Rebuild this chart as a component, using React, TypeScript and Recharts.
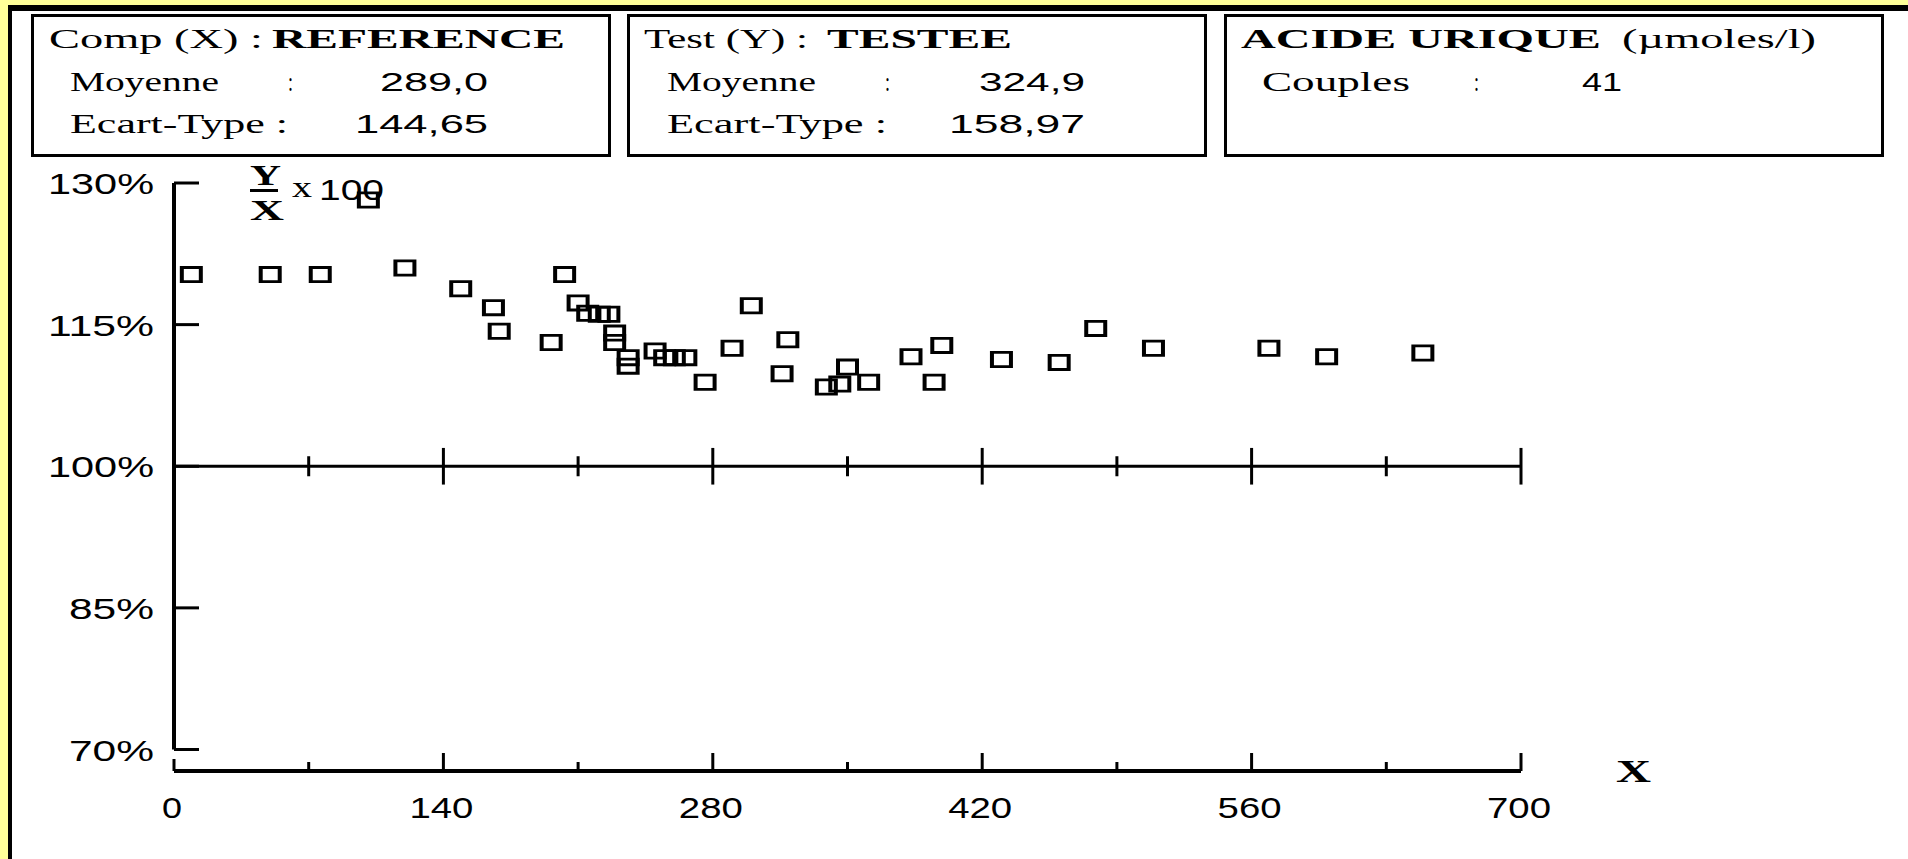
import React from 'react'
import { ScatterChart, Scatter, XAxis, YAxis, ReferenceLine } from 'recharts'

// comparison values (X, µmoles/l) and Y/X x100 ratios
const compValues = [
  9, 50, 76, 101, 120, 149, 166, 169, 196, 203,
  210, 215, 221, 226, 229, 229, 236, 236, 250, 255, 260, 266,
  276, 290, 300, 316, 319, 339, 346, 350, 361, 383, 395, 399,
  430, 460, 479, 509, 569, 599, 649,
]
const ratioValues = [
  120.3, 120.3, 120.3, 128.2, 121.0, 118.8, 116.8, 114.3, 113.1, 120.3,
  117.3, 116.2, 116.1, 116.1, 114.1, 113.1, 110.6, 111.5, 112.2, 111.5, 111.5, 111.5,
  108.9, 112.5, 117.0, 109.8, 113.4, 108.4, 108.7, 110.5, 108.9, 111.6, 108.9, 112.8,
  111.3, 111.0, 114.6, 112.5, 112.5, 111.6, 112.0,
]

const xTicks = [0, 70, 140, 210, 280, 350, 420, 490, 560, 630, 700]
const xTickLabels = ['0', '', '140', '', '280', '', '420', '', '560', '', '700']
const yTicks = [70, 85, 100, 115, 130]
const yTickLabels = ['70%', '85%', '100%', '115%', '130%']

const refStats = ['289,0', '144,65']
const testStats = ['324,9', '158,97']
const couples = '41'

const points = compValues.map((x, i) => ({ x, y: ratioValues[i] }))

const SERIF = '"Liberation Serif", "DejaVu Serif", serif'
const SANS = '"Liberation Sans", Arial, sans-serif'

// stretched text, the original font is much wider than anything installed
function T({ x, y, w, size = 27, bold = false, sans = false, anchor = 'start', children }: any) {
  return (
    <text
      x={x}
      y={y}
      textLength={w}
      lengthAdjust="spacingAndGlyphs"
      textAnchor={anchor}
      fontFamily={sans ? SANS : SERIF}
      fontWeight={bold ? 'bold' : 'normal'}
      fontSize={size}
      fill="#000"
    >
      {children}
    </text>
  )
}

function Square({ cx, cy }: any) {
  // outer 23x17, thicker vertical sides like the bitmap
  const d =
    `M${cx - 11.5},${cy - 8.5}h23v17h-23z` +
    `M${cx - 7.5},${cy - 5.7}h15v11.4h-15z`
  return <path d={d} fill="#000" fillRule="evenodd" />
}

function XTick({ x, y, payload }: any) {
  const v = payload.value
  const major = v % 140 === 0
  const h = v === 0 ? 12 : major ? 18 : 9
  const label = xTickLabels[xTicks.indexOf(v)]
  return (
    <g>
      <line x1={x} y1={y} x2={x} y2={y - h} stroke="#000" strokeWidth={3} />
      {label && (
        <T x={x - 2} y={y + 47} w={label.length * 22 - 2} size={30} sans anchor="middle">
          {label}
        </T>
      )}
    </g>
  )
}

function YTick({ x, y, payload }: any) {
  const label = yTickLabels[yTicks.indexOf(payload.value)]
  return (
    <g>
      <line x1={x} y1={y} x2={x + 25} y2={y} stroke="#000" strokeWidth={3} />
      <T x={x - 20} y={y + 11} w={label.length === 4 ? 106 : 85} size={30} sans anchor="end">
        {label}
      </T>
    </g>
  )
}

export default function App() {
  return (
    <div style={{ position: 'fixed', left: 0, top: 0, width: 1908, height: 859, background: '#FFFF99', overflow: 'hidden' }}>
      <svg width={1908} height={859} style={{ position: 'absolute', left: 0, top: 0 }}>
        <rect x={8} y={5} width={1900} height={854} fill="#000" />
        <rect x={12} y={11} width={1896} height={848} fill="#fff" />

        {/* info boxes */}
        <rect x={32.5} y={15.5} width={577} height={140} fill="none" stroke="#000" strokeWidth={3} />
        <rect x={628.5} y={15.5} width={577} height={140} fill="none" stroke="#000" strokeWidth={3} />
        <rect x={1225.5} y={15.5} width={657} height={140} fill="none" stroke="#000" strokeWidth={3} />

        <T x={49} y={48} w={214}>Comp (X) :</T>
        <T x={272} y={48} w={293} bold>REFERENCE</T>
        <T x={70} y={91} w={149}>Moyenne</T>
        <T x={288} y={91} w={5}>:</T>
        <T x={488} y={91} w={108} sans size={25} anchor="end">{refStats[0]}</T>
        <T x={70} y={133} w={218}>Ecart-Type :</T>
        <T x={488} y={133} w={133} sans size={25} anchor="end">{refStats[1]}</T>

        <T x={644} y={48} w={164}>Test (Y) :</T>
        <T x={827} y={48} w={185} bold>TESTEE</T>
        <T x={667} y={91} w={149}>Moyenne</T>
        <T x={885} y={91} w={5}>:</T>
        <T x={1085} y={91} w={106} sans size={25} anchor="end">{testStats[0]}</T>
        <T x={667} y={133} w={220}>Ecart-Type :</T>
        <T x={1085} y={133} w={136} sans size={25} anchor="end">{testStats[1]}</T>

        <T x={1241} y={48} w={360} bold>ACIDE URIQUE</T>
        <T x={1622} y={48} w={194}>(µmoles/l)</T>
        <T x={1262} y={91} w={148}>Couples</T>
        <T x={1474} y={91} w={5}>:</T>
        <T x={1582} y={91} w={40} sans size={25}>{couples}</T>

        {/* Y/X x100 axis title */}
        <T x={250} y={185} w={31} size={30} bold>Y</T>
        <rect x={250} y={189} width={28} height={3} fill="#000" />
        <T x={250} y={220} w={34} size={30} bold>X</T>
        <T x={292} y={197} w={20} size={30}>x</T>
        <T x={319} y={200} w={65} size={30} sans>100</T>

        {/* X axis title */}
        <T x={1616} y={782} w={35} size={32} bold>X</T>
      </svg>

      <div style={{ position: 'absolute', left: 0, top: 0 }}>
        <ScatterChart width={1908} height={859} margin={{ top: 183, right: 387, bottom: 0, left: 0 }}>
          <XAxis
            type="number"
            dataKey="x"
            domain={[0, 700]}
            ticks={xTicks}
            interval={0}
            height={88}
            tickSize={0}
            tickMargin={0}
            tickLine={false}
            axisLine={{ stroke: '#000', strokeWidth: 4 }}
            tick={<XTick />}
          />
          <YAxis
            type="number"
            dataKey="y"
            domain={[70, 130]}
            ticks={yTicks}
            interval={0}
            width={174}
            padding={{ top: 0, bottom: 21.5 }}
            tickSize={0}
            tickMargin={0}
            tickLine={false}
            axisLine={false}
            tick={<YTick />}
          />
          <ReferenceLine segment={[{ x: 0, y: 70 }, { x: 0, y: 130 }]} stroke="#000" strokeWidth={4} />
          <ReferenceLine segment={[{ x: 0, y: 100 }, { x: 700, y: 100 }]} stroke="#000" strokeWidth={3} />
          {xTicks.slice(1).map((v) => {
            const h = v % 140 === 0 ? 1.94 : 1.06
            return (
              <ReferenceLine
                key={v}
                segment={[{ x: v, y: 100 - h }, { x: v, y: 100 + h }]}
                stroke="#000"
                strokeWidth={3}
              />
            )
          })}
          <Scatter data={points} shape={<Square />} isAnimationActive={false} />
        </ScatterChart>
      </div>
    </div>
  )
}
